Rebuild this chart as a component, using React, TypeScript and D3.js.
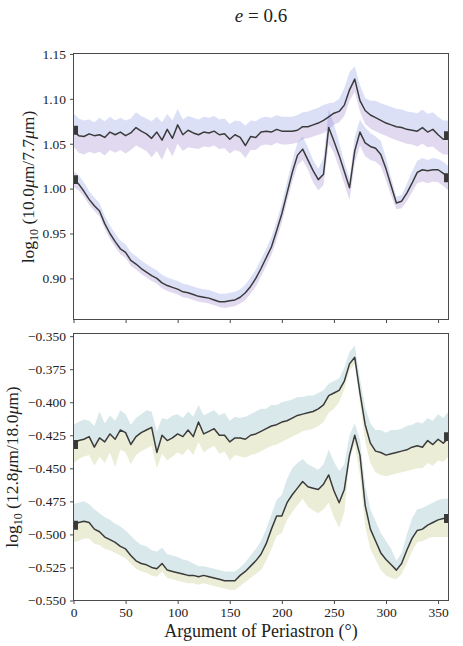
import React, { useEffect, useRef } from "react";
import * as d3 from "d3";

// argument of periastron (deg)
const angles = [
  0, 5, 10, 15, 20, 25, 30, 35, 40, 45, 50, 55, 60, 65, 70, 75, 80, 85, 90, 95,
  100, 105, 110, 115, 120, 125, 130, 135, 140, 145, 150, 155, 160, 165, 170, 175,
  180, 185, 190, 195, 200, 205, 210, 215, 220, 225, 230, 235, 240, 245, 250, 255,
  260, 265, 270, 275, 280, 285, 290, 295, 300, 305, 310, 315, 320, 325, 330, 335,
  340, 345, 350, 355, 360,
];

// top panel, upper curve: log10(10.0um/7.7um)
const topUpperMid = [
  1.064, 1.059, 1.058, 1.061, 1.059, 1.060, 1.057, 1.063, 1.060, 1.063, 1.059, 1.062, 1.068, 1.064, 1.061, 1.056, 1.063, 1.054, 1.066, 1.056,
  1.071, 1.060, 1.065, 1.062, 1.060, 1.063, 1.062, 1.064, 1.060, 1.061, 1.055, 1.060, 1.057, 1.048, 1.058, 1.057,
  1.063, 1.064, 1.063, 1.066, 1.064, 1.064, 1.064, 1.065, 1.069, 1.069, 1.071, 1.073, 1.076, 1.080, 1.084, 1.086,
  1.093, 1.110, 1.122, 1.098, 1.087, 1.082, 1.079, 1.076, 1.073, 1.071, 1.069, 1.068, 1.066, 1.065, 1.064, 1.068,
  1.063, 1.066, 1.060, 1.055, 1.056,
];
const topUpperHi = [
  1.084, 1.078, 1.076, 1.077, 1.074, 1.079, 1.075, 1.080, 1.076, 1.079, 1.076, 1.078, 1.085, 1.081, 1.078, 1.075, 1.080, 1.074, 1.083, 1.076,
  1.089, 1.077, 1.081, 1.079, 1.077, 1.080, 1.079, 1.081, 1.077, 1.078, 1.072, 1.076, 1.075, 1.070, 1.076, 1.075,
  1.079, 1.080, 1.079, 1.082, 1.080, 1.080, 1.080, 1.082, 1.085, 1.086, 1.088, 1.090, 1.093, 1.095, 1.096, 1.100,
  1.112, 1.130, 1.136, 1.115, 1.101, 1.098, 1.098, 1.095, 1.093, 1.091, 1.089, 1.088, 1.086, 1.085, 1.084, 1.088,
  1.083, 1.085, 1.080, 1.076, 1.076,
];
const topUpperLo = [
  1.047, 1.040, 1.038, 1.041, 1.039, 1.041, 1.037, 1.043, 1.040, 1.043, 1.039, 1.043, 1.048, 1.045, 1.042, 1.035, 1.042, 1.032, 1.046, 1.036,
  1.050, 1.042, 1.046, 1.045, 1.044, 1.047, 1.046, 1.048, 1.044, 1.045, 1.039, 1.043, 1.041, 1.034, 1.043, 1.043,
  1.048, 1.049, 1.048, 1.051, 1.049, 1.049, 1.050, 1.051, 1.055, 1.056, 1.058, 1.060, 1.062, 1.066, 1.071, 1.074,
  1.081, 1.098, 1.108, 1.086, 1.072, 1.067, 1.064, 1.061, 1.059, 1.056, 1.054, 1.052, 1.050, 1.049, 1.047, 1.050,
  1.046, 1.047, 1.042, 1.038, 1.038,
];

// top panel, lower curve
const topLowerMid = [
  1.010, 1.005, 0.997, 0.988, 0.981, 0.975, 0.961, 0.950, 0.941, 0.933, 0.929, 0.920, 0.916, 0.911, 0.907, 0.903, 0.900, 0.895, 0.892, 0.890,
  0.888, 0.885, 0.884, 0.882, 0.880, 0.879, 0.878, 0.876, 0.874, 0.874, 0.875, 0.876, 0.879, 0.884, 0.891, 0.900,
  0.911, 0.923, 0.935, 0.953, 0.972, 0.995, 1.018, 1.037, 1.044, 1.032, 1.020, 1.010, 1.016, 1.068, 1.053, 1.037,
  1.019, 1.001, 1.042, 1.063, 1.051, 1.047, 1.045, 1.038, 1.022, 1.003, 0.984, 0.986, 0.995, 1.006, 1.018, 1.021,
  1.020, 1.021, 1.021, 1.017, 1.011,
];
const topLowerHi = [
  1.020, 1.015, 1.007, 0.997, 0.990, 0.984, 0.970, 0.959, 0.950, 0.942, 0.938, 0.929, 0.925, 0.920, 0.916, 0.912, 0.909, 0.904, 0.901, 0.899,
  0.897, 0.894, 0.893, 0.891, 0.889, 0.888, 0.887, 0.885, 0.883, 0.883, 0.884, 0.885, 0.888, 0.893, 0.901, 0.910,
  0.921, 0.933, 0.946, 0.964, 0.983, 1.008, 1.031, 1.051, 1.058, 1.046, 1.032, 1.022, 1.034, 1.088, 1.072, 1.051,
  1.030, 1.011, 1.058, 1.077, 1.068, 1.062, 1.058, 1.053, 1.034, 1.012, 0.991, 0.993, 1.005, 1.019, 1.031, 1.034,
  1.032, 1.034, 1.033, 1.030, 1.025,
];
const topLowerLo = [
  1.002, 0.998, 0.991, 0.982, 0.975, 0.969, 0.955, 0.944, 0.935, 0.927, 0.923, 0.914, 0.910, 0.905, 0.901, 0.897, 0.894, 0.889, 0.886, 0.884,
  0.882, 0.879, 0.878, 0.876, 0.874, 0.873, 0.872, 0.870, 0.868, 0.867, 0.868, 0.869, 0.872, 0.876, 0.883, 0.891,
  0.902, 0.914, 0.926, 0.943, 0.962, 0.986, 1.007, 1.026, 1.032, 1.021, 1.007, 0.998, 1.004, 1.050, 1.040, 1.023,
  1.005, 0.987, 1.028, 1.048, 1.036, 1.032, 1.030, 1.025, 1.009, 0.992, 0.977, 0.978, 0.986, 0.996, 1.006, 1.008,
  1.006, 1.008, 1.007, 1.003, 0.998,
];

// bottom panel, upper curve: log10(12.8um/18.0um)
const botUpperMid = [
  -0.431, -0.429, -0.428, -0.426, -0.434, -0.427, -0.430, -0.424, -0.428, -0.421, -0.423, -0.432, -0.426, -0.423, -0.421, -0.419, -0.438, -0.425, -0.429, -0.427,
  -0.424, -0.426, -0.421, -0.426, -0.415, -0.424, -0.422, -0.420, -0.425, -0.425, -0.430, -0.427, -0.427, -0.428, -0.425, -0.424,
  -0.422, -0.420, -0.418, -0.417, -0.415, -0.414, -0.412, -0.410, -0.409, -0.408, -0.407, -0.405, -0.402, -0.395, -0.393, -0.391,
  -0.384, -0.371, -0.366, -0.393, -0.417, -0.431, -0.437, -0.438, -0.440, -0.439, -0.438, -0.437, -0.436, -0.434, -0.433, -0.434,
  -0.429, -0.432, -0.428, -0.431, -0.427,
];
const botUpperHi = [
  -0.417, -0.415, -0.413, -0.414, -0.418, -0.407, -0.416, -0.410, -0.414, -0.406, -0.409, -0.417, -0.412, -0.409, -0.406, -0.407, -0.422, -0.412, -0.413, -0.410,
  -0.409, -0.412, -0.407, -0.411, -0.402, -0.410, -0.408, -0.406, -0.410, -0.408, -0.414, -0.411, -0.412, -0.411, -0.409, -0.407,
  -0.405, -0.405, -0.402, -0.402, -0.400, -0.399, -0.398, -0.396, -0.396, -0.395, -0.395, -0.393, -0.391, -0.386, -0.384, -0.382,
  -0.374, -0.362, -0.357, -0.382, -0.404, -0.416, -0.421, -0.421, -0.423, -0.421, -0.421, -0.420, -0.418, -0.417, -0.415, -0.416,
  -0.412, -0.414, -0.409, -0.412, -0.407,
];
const botUpperLo = [
  -0.446, -0.443, -0.441, -0.440, -0.448, -0.441, -0.446, -0.438, -0.449, -0.436, -0.438, -0.447, -0.440, -0.437, -0.435, -0.433, -0.450, -0.439, -0.444, -0.441,
  -0.438, -0.440, -0.435, -0.440, -0.430, -0.438, -0.435, -0.433, -0.439, -0.437, -0.444, -0.440, -0.441, -0.442, -0.440, -0.439,
  -0.437, -0.435, -0.433, -0.432, -0.430, -0.428, -0.426, -0.424, -0.422, -0.421, -0.420, -0.418, -0.415, -0.408, -0.405, -0.400,
  -0.390, -0.376, -0.371, -0.401, -0.430, -0.446, -0.453, -0.455, -0.456, -0.455, -0.454, -0.453, -0.452, -0.451, -0.450, -0.450,
  -0.446, -0.448, -0.444, -0.445, -0.441,
];

// bottom panel, lower curve
const botLowerMid = [
  -0.493, -0.491, -0.490, -0.491, -0.496, -0.498, -0.502, -0.504, -0.506, -0.509, -0.511, -0.516, -0.520, -0.522, -0.523, -0.525, -0.526, -0.522, -0.527, -0.528,
  -0.529, -0.530, -0.531, -0.531, -0.532, -0.531, -0.532, -0.533, -0.534, -0.535, -0.535, -0.535, -0.531, -0.528, -0.524, -0.520,
  -0.515, -0.507, -0.496, -0.486, -0.486, -0.476, -0.470, -0.465, -0.460, -0.464, -0.465, -0.466, -0.462, -0.455, -0.467, -0.476,
  -0.466, -0.440, -0.425, -0.440, -0.478, -0.496, -0.505, -0.514, -0.519, -0.523, -0.527, -0.522, -0.512, -0.503, -0.497, -0.496,
  -0.493, -0.491, -0.489, -0.488, -0.488,
];
const botLowerHi = [
  -0.477, -0.476, -0.475, -0.477, -0.481, -0.484, -0.487, -0.489, -0.492, -0.494, -0.497, -0.501, -0.505, -0.508, -0.509, -0.512, -0.513, -0.510, -0.515, -0.516,
  -0.517, -0.519, -0.520, -0.522, -0.524, -0.524, -0.525, -0.526, -0.527, -0.528, -0.528, -0.528, -0.525, -0.521, -0.516, -0.511,
  -0.505, -0.496, -0.485, -0.474, -0.470, -0.458, -0.450, -0.446, -0.443, -0.447, -0.449, -0.451, -0.447, -0.436, -0.445, -0.452,
  -0.447, -0.425, -0.416, -0.428, -0.463, -0.481, -0.490, -0.499, -0.505, -0.511, -0.520, -0.514, -0.500, -0.488, -0.481, -0.480,
  -0.478, -0.476, -0.474, -0.473, -0.473,
];
const botLowerLo = [
  -0.506, -0.505, -0.503, -0.503, -0.507, -0.508, -0.511, -0.512, -0.514, -0.516, -0.518, -0.522, -0.526, -0.528, -0.529, -0.531, -0.532, -0.528, -0.533, -0.534,
  -0.535, -0.536, -0.537, -0.537, -0.538, -0.537, -0.538, -0.539, -0.540, -0.541, -0.542, -0.542, -0.539, -0.536, -0.533, -0.530,
  -0.527, -0.520, -0.511, -0.501, -0.499, -0.489, -0.483, -0.478, -0.473, -0.479, -0.482, -0.484, -0.481, -0.476, -0.487, -0.495,
  -0.483, -0.443, -0.432, -0.455, -0.494, -0.511, -0.519, -0.527, -0.531, -0.533, -0.534, -0.530, -0.522, -0.513, -0.506, -0.505,
  -0.503, -0.502, -0.502, -0.502, -0.502,
];

// end markers (value at 0 and at 360)
const topUpperEnds = [1.065, 1.059];
const topLowerEnds = [1.010, 1.012];
const botUpperEnds = [-0.432, -0.426];
const botLowerEnds = [-0.493, -0.488];

const xTicks = [0, 50, 100, 150, 200, 250, 300, 350];
const topYTicks = [0.9, 0.95, 1.0, 1.05, 1.1, 1.15];
const botYTicks = [-0.55, -0.525, -0.5, -0.475, -0.45, -0.425, -0.4, -0.375, -0.35];

const FONT = "Liberation Serif, DejaVu Serif, serif";

export default function App() {
  const ref = useRef<SVGSVGElement>(null);

  useEffect(() => {
    const svg = d3.select(ref.current);
    svg.selectAll("*").remove();

    const left = 73.5;
    const right = 448.5;
    const x = d3.scaleLinear().domain([0, 360]).range([left, right]);
    const minus = (f: (n: number) => string) => (n: number) => f(n).replace("-", "\u2212");

    const panels = [
      {
        id: "top",
        y0: 53.5,
        y1: 319.5,
        domain: [0.8542, 1.1505],
        ticks: topYTicks,
        fmt: d3.format(".2f"),
        hiColor: "#4a62d6",
        loColor: "#6b3fb3",
        series: [
          { mid: topUpperMid, hi: topUpperHi, lo: topUpperLo, ends: topUpperEnds },
          { mid: topLowerMid, hi: topLowerHi, lo: topLowerLo, ends: topLowerEnds },
        ],
        xLabels: false,
      },
      {
        id: "bot",
        y0: 333.5,
        y1: 600.5,
        domain: [-0.55, -0.348],
        ticks: botYTicks,
        fmt: minus(d3.format(".3f")),
        hiColor: "#3d8a99",
        loColor: "#9aa533",
        series: [
          { mid: botUpperMid, hi: botUpperHi, lo: botUpperLo, ends: botUpperEnds },
          { mid: botLowerMid, hi: botLowerHi, lo: botLowerLo, ends: botLowerEnds },
        ],
        xLabels: true,
      },
    ];

    panels.forEach((p) => {
      const y = d3.scaleLinear().domain(p.domain).range([p.y1, p.y0]);

      svg.append("clipPath")
        .attr("id", `clip-${p.id}`)
        .append("rect")
        .attr("x", left)
        .attr("y", p.y0)
        .attr("width", right - left)
        .attr("height", p.y1 - p.y0);

      const g = svg.append("g").attr("clip-path", `url(#clip-${p.id})`);

      // shaded bands: line -> upper, lower -> line
      p.series.forEach((s) => {
        const rows = angles.map((a, i) => ({ a, mid: s.mid[i], hi: s.hi[i], lo: s.lo[i] }));
        g.append("path")
          .attr("d", d3.area<any>().x((d) => x(d.a)).y0((d) => y(d.mid)).y1((d) => y(d.hi))(rows))
          .attr("fill", p.hiColor)
          .attr("fill-opacity", 0.2);
        g.append("path")
          .attr("d", d3.area<any>().x((d) => x(d.a)).y0((d) => y(d.lo)).y1((d) => y(d.mid))(rows))
          .attr("fill", p.loColor)
          .attr("fill-opacity", 0.2);
      });

      // lines
      p.series.forEach((s) => {
        const line = d3.line<number>().x((_, i) => x(angles[i])).y((d) => y(d));
        g.append("path")
          .attr("d", line(s.mid))
          .attr("fill", "none")
          .attr("stroke", "#3b3b3b")
          .attr("stroke-width", 1.5)
          .attr("stroke-linejoin", "round");
      });

      // end markers (clipped at the frame, as in the original)
      p.series.forEach((s) => {
        [0, 360].forEach((a, i) => {
          g.append("path")
            .attr("d", d3.symbol(d3.symbolSquare, 80)())
            .attr("transform", `translate(${x(a)},${y(s.ends[i])})`)
            .attr("fill", "#383838");
        });
      });

      // frame
      svg.append("rect")
        .attr("x", left)
        .attr("y", p.y0)
        .attr("width", right - left)
        .attr("height", p.y1 - p.y0)
        .attr("fill", "none")
        .attr("stroke", "#4a4a4a")
        .attr("stroke-width", 1);

      // y axis
      const yAxis = svg.append("g")
        .attr("transform", `translate(${left},0)`)
        .call(d3.axisLeft(y).tickValues(p.ticks).tickFormat(p.fmt as any).tickSize(3.5).tickPadding(4));
      yAxis.select(".domain").remove();
      yAxis.selectAll(".tick line").attr("stroke", "#4a4a4a");
      yAxis.selectAll(".tick text")
        .attr("font-family", FONT)
        .attr("font-size", 13.5)
        .attr("fill", "#222");

      // x axis
      const xAxis = svg.append("g")
        .attr("transform", `translate(0,${p.y1})`)
        .call(d3.axisBottom(x).tickValues(xTicks).tickFormat((p.xLabels ? d3.format("d") : () => "") as any).tickSize(3.5).tickPadding(3));
      xAxis.select(".domain").remove();
      xAxis.selectAll(".tick line").attr("stroke", "#4a4a4a");
      xAxis.selectAll(".tick text")
        .attr("font-family", FONT)
        .attr("font-size", 13.5)
        .attr("fill", "#222");
    });

    // title
    const title = svg.append("text")
      .attr("x", (left + right) / 2)
      .attr("y", 22)
      .attr("text-anchor", "middle")
      .attr("font-family", FONT)
      .attr("font-size", 19)
      .attr("fill", "#222");
    title.append("tspan").attr("font-style", "italic").text("e");
    title.append("tspan").text(" = 0.6");

    // x label
    svg.append("text")
      .attr("x", (left + right) / 2)
      .attr("y", 637)
      .attr("text-anchor", "middle")
      .attr("font-family", FONT)
      .attr("font-size", 18)
      .attr("fill", "#222")
      .text("Argument of Periastron (°)");

    // y labels
    const yLabel = (cx: number, cy: number, a: string, b: string) => {
      const t = svg.append("text")
        .attr("transform", `translate(${cx},${cy}) rotate(-90)`)
        .attr("text-anchor", "middle")
        .attr("font-family", FONT)
        .attr("font-size", 17.5)
        .attr("fill", "#222");
      t.append("tspan").text("log");
      t.append("tspan").attr("font-size", 12).attr("dy", 4).text("10");
      t.append("tspan").attr("dy", -4).text(` (${a}`);
      t.append("tspan").attr("font-style", "italic").text("μ");
      t.append("tspan").text(`m/${b}`);
      t.append("tspan").attr("font-style", "italic").text("μ");
      t.append("tspan").text("m)");
    };
    yLabel(34, 187, "10.0", "7.7");
    yLabel(18, 467, "12.8", "18.0");
  }, []);

  return (
    <svg
      ref={ref}
      width={463}
      height={646}
      style={{ position: "absolute", left: 0, top: 0, background: "#fff" }}
    />
  );
}
